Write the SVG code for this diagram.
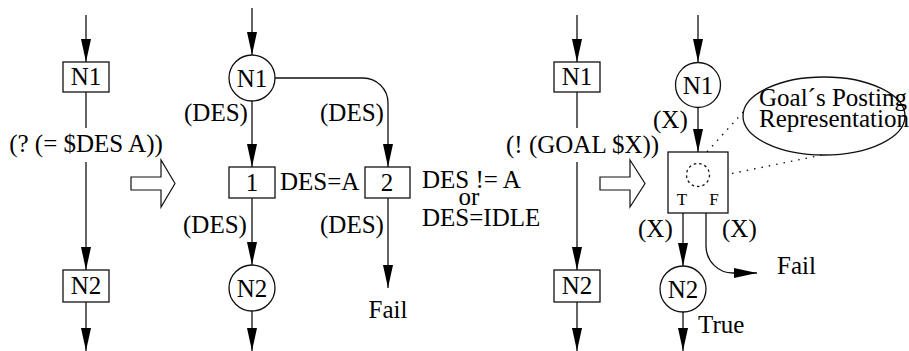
<svg xmlns="http://www.w3.org/2000/svg" width="909" height="351" viewBox="0 0 909 351">
  <style>
    .ln { fill: none; stroke: #111; stroke-width: 1.3; }
    .arr { marker-end: url(#ah); }
    .box { fill: #fff; stroke: #111; stroke-width: 1.3; }
    .hollow { fill: #fff; stroke: #111; stroke-width: 1.2; }
    .dot { fill: none; stroke: #111; stroke-width: 1.4; stroke-dasharray: 1.5 6; }
    text { font-family: "Liberation Serif", "Times New Roman", serif; font-size: 25px; fill: #000; }
    .c { text-anchor: middle; }
    .small { font-size: 17px; }
  </style>
  <defs>
    <marker id="ah" markerUnits="userSpaceOnUse" markerWidth="23" markerHeight="10" refX="23" refY="5" orient="auto">
      <path d="M0,0 L23,5 L0,10 Z" fill="#000"/>
    </marker>
  </defs>

  <!-- connectors -->
  <g id="connectors">
    <!-- panel 1 -->
    <path class="ln arr" d="M86,15 V62"/>
    <path class="ln" d="M86,92 V128"/>
    <path class="ln arr" d="M86,162 V270"/>
    <path class="ln arr" d="M86,302 V351"/>
    <!-- panel 2 -->
    <path class="ln arr" d="M252,8 V55"/>
    <path class="ln arr" d="M252,101 V167"/>
    <path class="ln arr" d="M275,78 H363 A25,25 0 0 1 388,103 V167"/>
    <path class="ln arr" d="M252,198 V265"/>
    <path class="ln arr" d="M388,198 V288"/>
    <path class="ln arr" d="M252,311 V351"/>
    <!-- panel 3 -->
    <path class="ln arr" d="M577,15 V62"/>
    <path class="ln" d="M577,92 V128"/>
    <path class="ln arr" d="M577,162 V270"/>
    <path class="ln arr" d="M577,302 V351"/>
    <!-- panel 4 -->
    <path class="ln arr" d="M698,15 V62"/>
    <path class="ln arr" d="M698,107 V152"/>
    <path class="ln arr" d="M683,213 V266"/>
    <path class="ln arr" d="M706,213 V246 A27,27 0 0 0 733,273 H757"/>
    <path class="ln arr" d="M683,312 V351"/>
    <!-- dotted leaders to the note -->
    <path class="dot" d="M697,163 L745,110"/>
    <path class="dot" d="M710,178 L827,154"/>
  </g>

  <!-- transformation arrows -->
  <g id="transform1">
    <polygon class="hollow" points="131,177 161,177 161,160 175,183.5 161,207 161,190 131,190"/>
  </g>
  <g id="transform2">
    <polygon class="hollow" points="600,177 630,177 630,160 645,183.5 630,207 630,190 600,190"/>
  </g>

  <!-- panel 1 nodes -->
  <g id="p1-n1">
    <rect class="box" x="63" y="62" width="46" height="30"/>
    <text class="c" x="86" y="85">N1</text>
  </g>
  <g id="p1-cond">
    <text class="c" x="86" y="152">(? (= $DES A))</text>
  </g>
  <g id="p1-n2">
    <rect class="box" x="63" y="270" width="46" height="32"/>
    <text class="c" x="86" y="294">N2</text>
  </g>

  <!-- panel 2 nodes -->
  <g id="p2-n1">
    <circle class="box" cx="252" cy="78" r="23"/>
    <text class="c" x="252" y="87">N1</text>
  </g>
  <g id="p2-test1">
    <rect class="box" x="229" y="167" width="46" height="31"/>
    <text class="c" x="252" y="191">1</text>
    <text x="280" y="190">DES=A</text>
  </g>
  <g id="p2-test2">
    <rect class="box" x="365" y="167" width="45" height="31"/>
    <text class="c" x="387" y="191">2</text>
    <text x="422" y="188">DES != A</text>
    <text class="c" x="469" y="205">or</text>
    <text x="422" y="226">DES=IDLE</text>
  </g>
  <g id="p2-n2">
    <circle class="box" cx="252" cy="288" r="23"/>
    <text class="c" x="252" y="297">N2</text>
  </g>
  <g id="p2-labels">
    <text x="184" y="121">(DES)</text>
    <text x="320" y="121">(DES)</text>
    <text x="183" y="233">(DES)</text>
    <text x="320" y="233">(DES)</text>
    <text class="c" x="388" y="318">Fail</text>
  </g>

  <!-- panel 3 nodes -->
  <g id="p3-n1">
    <rect class="box" x="554" y="62" width="46" height="30"/>
    <text class="c" x="577" y="85">N1</text>
  </g>
  <g id="p3-cond">
    <text x="506" y="153">(! (GOAL $X))</text>
  </g>
  <g id="p3-n2">
    <rect class="box" x="554" y="270" width="46" height="32"/>
    <text class="c" x="577" y="294">N2</text>
  </g>

  <!-- panel 4 nodes -->
  <g id="p4-n1">
    <circle class="box" cx="698" cy="85" r="22.5"/>
    <text class="c" x="698" y="94">N1</text>
  </g>
  <g id="p4-goal">
    <rect class="box" x="668" y="152" width="60" height="61"/>
    <circle cx="698" cy="175" r="11.5" fill="none" stroke="#111" stroke-width="1.3" stroke-dasharray="2.5 3"/>
    <text class="c small" x="682" y="205">T</text>
    <text class="c small" x="714" y="205">F</text>
  </g>
  <g id="p4-n2">
    <circle class="box" cx="683" cy="289" r="23"/>
    <text class="c" x="683" y="298">N2</text>
  </g>
  <g id="p4-labels">
    <text x="653" y="128">(X)</text>
    <text x="638" y="237">(X)</text>
    <text x="722" y="237">(X)</text>
    <text x="777" y="274">Fail</text>
    <text x="698" y="333">True</text>
  </g>
  <g id="p4-note">
    <ellipse cx="824" cy="116" rx="81" ry="39" fill="none" stroke="#111" stroke-width="1.3"/>
    <text x="759" y="106">Goal´s Posting</text>
    <text x="759" y="127">Representation</text>
  </g>
</svg>
